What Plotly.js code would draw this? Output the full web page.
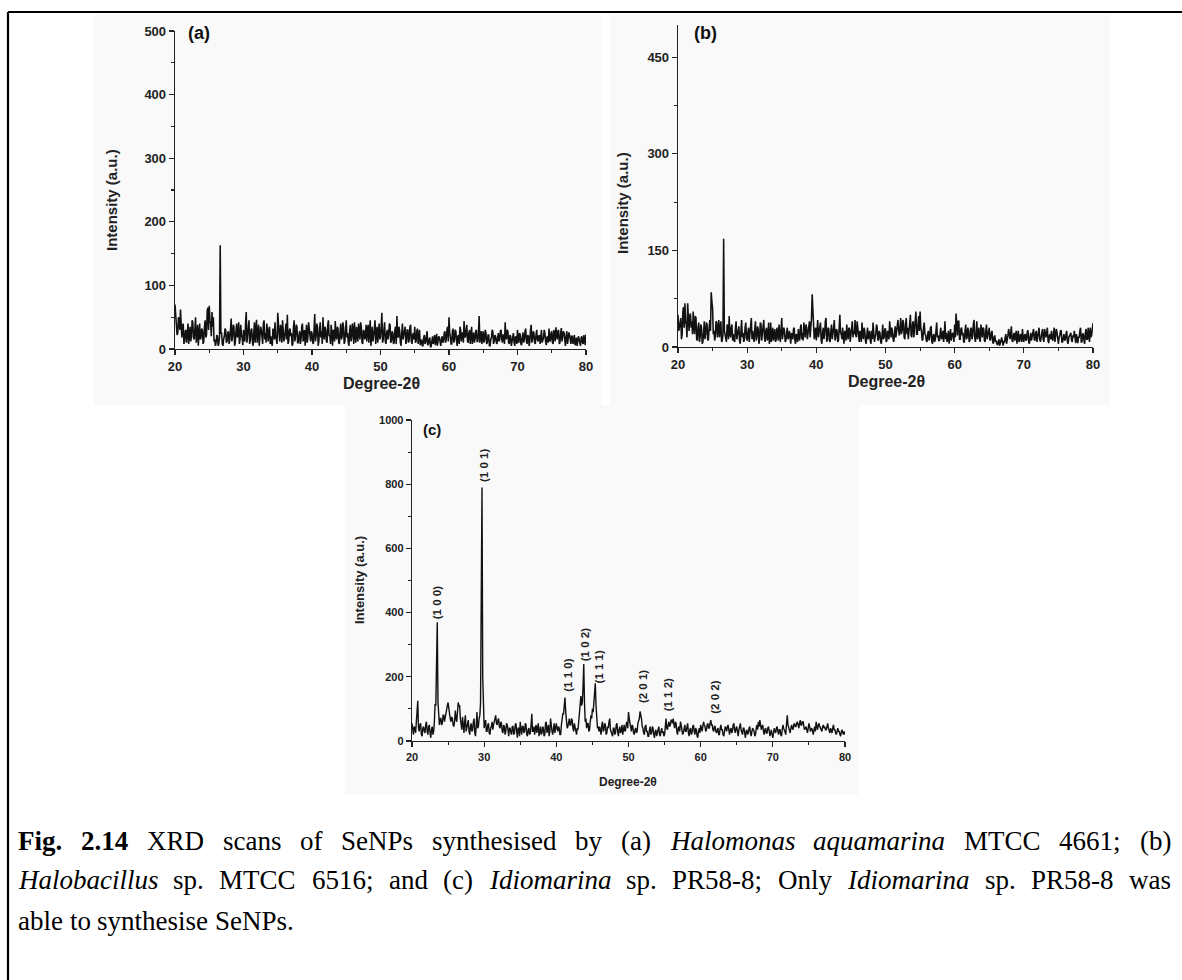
<!DOCTYPE html>
<html>
<head>
<meta charset="utf-8">
<script src="https://cdn.plot.ly/plotly-3.0.1.min.js"></script>
<style>
  html, body { margin: 0; padding: 0; background: #ffffff; }
  #chart { width: 1182px; height: 980px; }
</style>
</head>
<body>
<div id="chart"></div>
<script>
// ---------------- DATA ----------------
const twoThetaStart = 20;
const twoThetaStep = 0.1;

// (a) Halomonas aquamarina MTCC 4661
const intensityA = [
  70, 45, 38, 22, 25, 50, 45, 30, 62, 20, 18, 35, 40, 8, 12, 28, 30, 10, 22, 40,
  8, 25, 35, 12, 20, 45, 42, 18, 15, 30, 50, 10, 28, 38, 5, 22, 40, 15, 18, 32,
  30, 8, 12, 35, 45, 18, 22, 60, 65, 30, 68, 45, 40, 20, 58, 35, 50, 12, 15, 5,
  10, 22, 20, 5, 8, 20, 163, 25, 25, 8, 5, 15, 20, 32, 30, 10, 12, 25, 28, 8,
  15, 30, 48, 12, 20, 38, 35, 5, 10, 28, 40, 18, 25, 42, 8, 15, 38, 22, 18, 6,
  30, 15, 12, 40, 58, 10, 20, 35, 45, 8, 15, 30, 32, 12, 5, 25, 42, 10, 22, 46,
  10, 25, 38, 5, 18, 35, 30, 12, 8, 40, 45, 15, 25, 10, 40, 28, 12, 30, 35, 8,
  20, 10, 5, 32, 28, 15, 42, 20, 15, 8, 57, 25, 22, 12, 38, 30, 10, 45, 30, 12,
  18, 30, 40, 15, 54, 8, 12, 30, 32, 20, 25, 5, 8, 35, 45, 12, 20, 38, 35, 10,
  10, 22, 28, 8, 15, 35, 40, 12, 22, 30, 5, 18, 38, 10, 18, 42, 30, 15, 12, 28,
  25, 10, 8, 30, 55, 12, 20, 40, 35, 5, 12, 30, 42, 18, 28, 8, 50, 25, 15, 35,
  30, 12, 10, 38, 45, 20, 22, 8, 38, 25, 5, 30, 28, 12, 44, 20, 15, 35, 32, 10,
  8, 28, 40, 15, 20, 42, 35, 8, 12, 30, 45, 18, 25, 10, 5, 30, 38, 12, 18, 40,
  30, 8, 42, 20, 10, 35, 25, 12, 40, 22, 15, 42, 35, 10, 8, 30, 28, 15, 20, 38,
  12, 30, 38, 10, 22, 45, 5, 20, 35, 12, 18, 30, 45, 8, 25, 35, 10, 20, 40, 15,
  20, 35, 57, 10, 15, 30, 42, 12, 8, 25, 30, 15, 22, 40, 38, 10, 12, 28, 25, 8,
  10, 30, 35, 8, 52, 20, 18, 35, 28, 10, 5, 25, 40, 15, 22, 32, 35, 8, 12, 30,
  30, 10, 15, 35, 38, 12, 8, 22, 25, 15, 35, 10, 12, 28, 32, 8, 20, 30, 6, 15,
  15, 5, 5, 18, 22, 8, 10, 20, 28, 6, 8, 15, 18, 3, 4, 12, 20, 8, 12, 22,
  6, 15, 24, 5, 10, 20, 18, 8, 5, 15, 20, 10, 12, 25, 28, 10, 15, 30, 35, 12,
  50, 25, 20, 8, 8, 28, 32, 10, 15, 30, 28, 12, 5, 20, 22, 8, 35, 30, 12, 25,
  25, 10, 44, 20, 18, 30, 38, 12, 10, 25, 30, 8, 20, 35, 8, 15, 26, 10, 15, 28,
  30, 12, 12, 25, 52, 10, 20, 28, 8, 15, 28, 10, 15, 30, 25, 8, 10, 22, 22, 5,
  5, 15, 18, 30, 28, 8, 12, 22, 20, 10, 8, 18, 25, 12, 15, 28, 30, 15, 10, 22,
  22, 8, 42, 20, 15, 30, 28, 10, 8, 22, 20, 5, 12, 25, 25, 10, 5, 20, 18, 8,
  30, 12, 10, 25, 22, 8, 6, 18, 26, 10, 15, 28, 32, 12, 8, 22, 20, 5, 12, 30,
  38, 10, 15, 28, 25, 10, 8, 22, 30, 15, 12, 20, 22, 8, 28, 30, 10, 15, 18, 30,
  25, 12, 6, 18, 20, 10, 32, 15, 12, 25, 28, 10, 8, 30, 22, 12, 34, 20, 15, 28,
  30, 8, 10, 25, 33, 12, 18, 28, 25, 10, 5, 20, 28, 8, 15, 26, 22, 10, 8, 20,
  20, 8, 12, 22, 6, 10, 18, 5, 10, 20, 15, 8, 5, 18, 20, 10, 8, 22, 12, 6,
  23
];

// (b) Halobacillus sp. MTCC 6516
const intensityB = [
  50, 25, 30, 42, 45, 12, 20, 55, 62, 30, 68, 40, 35, 15, 68, 45, 25, 48, 52, 30,
  40, 20, 55, 30, 20, 48, 45, 12, 10, 30, 38, 8, 15, 35, 30, 5, 8, 22, 40, 12,
  20, 38, 35, 10, 12, 30, 42, 25, 85, 70, 60, 20, 25, 10, 18, 40, 38, 15, 30, 42,
  15, 35, 40, 8, 10, 20, 168, 25, 20, 10, 8, 35, 30, 12, 48, 20, 15, 30, 35, 10,
  20, 10, 8, 30, 40, 12, 18, 28, 32, 10, 5, 25, 42, 15, 22, 8, 12, 30, 38, 15,
  10, 22, 30, 8, 18, 35, 45, 12, 25, 15, 8, 28, 40, 10, 15, 32, 28, 5, 12, 38,
  35, 10, 20, 30, 42, 15, 8, 25, 30, 10, 15, 38, 5, 12, 38, 8, 22, 30, 10, 25,
  28, 8, 12, 30, 20, 10, 35, 15, 8, 28, 45, 12, 18, 30, 25, 8, 10, 22, 30, 12,
  15, 25, 8, 5, 22, 15, 12, 28, 30, 10, 5, 20, 18, 8, 28, 15, 10, 30, 35, 12,
  22, 10, 38, 25, 15, 35, 30, 12, 20, 35, 40, 15, 25, 45, 82, 40, 35, 12, 20, 30,
  10, 28, 42, 15, 25, 38, 38, 10, 5, 22, 30, 12, 20, 40, 45, 8, 12, 30, 28, 10,
  8, 25, 35, 12, 18, 30, 42, 10, 15, 28, 25, 8, 10, 35, 50, 22, 20, 12, 30, 15,
  5, 25, 22, 10, 35, 18, 12, 30, 28, 8, 18, 35, 40, 15, 25, 20, 42, 18, 15, 40,
  30, 10, 8, 25, 22, 8, 38, 20, 12, 30, 25, 10, 5, 18, 30, 12, 18, 25, 10, 5,
  25, 12, 38, 20, 8, 15, 20, 35, 30, 10, 12, 25, 22, 8, 5, 18, 35, 12, 15, 28,
  28, 8, 10, 25, 20, 12, 40, 18, 15, 30, 25, 12, 8, 20, 32, 15, 22, 30, 42, 25,
  18, 30, 45, 20, 25, 42, 38, 15, 12, 35, 45, 20, 30, 12, 22, 40, 50, 18, 15, 35,
  40, 15, 28, 45, 55, 20, 20, 35, 48, 25, 55, 30, 25, 10, 12, 30, 38, 20, 18, 10,
  8, 20, 25, 10, 15, 30, 32, 8, 5, 18, 20, 8, 12, 25, 38, 15, 18, 10, 10, 22,
  30, 12, 15, 25, 8, 20, 40, 12, 22, 8, 12, 25, 5, 15, 28, 10, 15, 22, 20, 8,
  35, 15, 52, 25, 18, 40, 40, 12, 12, 28, 30, 18, 22, 8, 8, 25, 35, 12, 15, 30,
  25, 8, 10, 28, 30, 12, 18, 35, 42, 15, 8, 20, 40, 12, 22, 30, 12, 8, 35, 20,
  15, 30, 28, 10, 8, 25, 35, 12, 20, 28, 30, 10, 12, 22, 25, 8, 5, 15, 18, 8,
  10, 5, 3, 8, 12, 2, 5, 10, 15, 3, 2, 8, 8, 15, 20, 5, 10, 18, 28, 12,
  12, 22, 32, 10, 8, 18, 22, 10, 15, 25, 5, 12, 25, 8, 10, 20, 18, 8, 28, 15,
  8, 18, 20, 10, 12, 24, 26, 8, 5, 15, 22, 10, 15, 25, 28, 12, 10, 22, 25, 8,
  18, 25, 30, 12, 8, 15, 22, 28, 12, 8, 28, 15, 15, 22, 30, 10, 6, 18, 20, 12,
  25, 12, 10, 22, 30, 8, 15, 28, 22, 10, 5, 15, 18, 25, 26, 8, 8, 15, 20, 10,
  12, 20, 25, 8, 5, 15, 18, 22, 22, 10, 8, 18, 15, 25, 10, 6, 20, 12, 6, 15,
  15, 25, 30, 8, 8, 20, 20, 10, 5, 22, 28, 12, 12, 30, 22, 8, 30, 15, 18, 25,
  37
];

// (c) Idiomarina sp. PR58-8
const intensityC = [
  55, 35, 20, 45, 40, 25, 60, 90, 125, 40, 30, 50, 55, 20, 15, 40, 45, 30, 25, 50,
  60, 30, 20, 45, 50, 25, 10, 35, 45, 20, 30, 60, 115, 110, 200, 370, 120, 60, 50, 70,
  70, 50, 55, 80, 80, 60, 75, 95, 95, 110, 120, 90, 85, 70, 60, 75, 70, 50, 45, 60,
  95, 70, 60, 90, 120, 110, 110, 70, 50, 35, 75, 40, 25, 60, 80, 30, 40, 55, 65, 30,
  20, 45, 55, 30, 35, 60, 70, 25, 15, 50, 90, 40, 45, 70, 80, 120, 400, 790, 200, 60,
  40, 55, 65, 30, 30, 50, 55, 25, 20, 40, 45, 60, 35, 50, 60, 75, 80, 55, 50, 65,
  70, 45, 40, 60, 55, 30, 25, 50, 45, 20, 30, 55, 50, 35, 15, 40, 40, 25, 20, 45,
  45, 20, 25, 50, 55, 30, 10, 40, 40, 15, 60, 35, 20, 45, 45, 25, 30, 55, 50, 20,
  15, 35, 40, 20, 25, 50, 85, 30, 30, 45, 20, 40, 50, 25, 35, 55, 15, 30, 45, 20,
  25, 45, 40, 15, 20, 55, 60, 25, 35, 50, 15, 30, 70, 40, 30, 20, 45, 55, 25, 40,
  55, 40, 30, 45, 40, 20, 20, 50, 70, 85, 85, 110, 135, 90, 60, 40, 45, 60, 70, 50,
  50, 70, 65, 40, 30, 55, 45, 30, 20, 40, 35, 60, 90, 110, 140, 110, 120, 170, 240, 120,
  60, 70, 40, 55, 55, 30, 35, 60, 80, 70, 100, 90, 120, 140, 180, 110, 70, 40, 45, 30,
  45, 25, 20, 50, 60, 30, 35, 55, 50, 20, 25, 45, 40, 60, 70, 35, 30, 20, 15, 40,
  40, 20, 25, 50, 55, 30, 15, 35, 45, 25, 30, 50, 20, 35, 50, 30, 35, 55, 60, 40,
  90, 70, 55, 30, 30, 50, 45, 25, 20, 35, 40, 25, 30, 55, 60, 70, 92, 80, 70, 45,
  40, 25, 20, 45, 50, 30, 30, 15, 15, 35, 45, 20, 25, 45, 40, 20, 10, 30, 35, 15,
  25, 35, 45, 20, 15, 30, 40, 25, 30, 15, 20, 45, 70, 40, 35, 50, 60, 45, 50, 65,
  65, 55, 70, 50, 40, 60, 55, 30, 20, 40, 45, 30, 60, 50, 35, 20, 25, 45, 50, 30,
  30, 45, 55, 25, 15, 35, 40, 20, 25, 45, 50, 30, 20, 40, 35, 15, 10, 30, 40, 25,
  50, 40, 30, 45, 60, 50, 45, 30, 35, 50, 55, 40, 40, 55, 65, 50, 50, 35, 30, 45,
  45, 30, 25, 35, 40, 20, 20, 40, 50, 35, 35, 20, 15, 30, 45, 40, 30, 45, 50, 35,
  20, 35, 40, 25, 30, 50, 55, 35, 25, 40, 45, 30, 15, 35, 50, 55, 35, 25, 20, 40,
  40, 25, 10, 30, 35, 20, 25, 40, 45, 25, 15, 30, 40, 35, 30, 15, 20, 40, 50, 35,
  60, 45, 65, 50, 35, 45, 50, 30, 20, 35, 40, 25, 25, 40, 45, 30, 15, 25, 35, 20,
  10, 25, 40, 30, 25, 40, 45, 30, 20, 35, 35, 20, 15, 35, 50, 40, 30, 25, 20, 55,
  80, 50, 40, 30, 25, 40, 50, 40, 35, 50, 55, 45, 45, 55, 60, 50, 40, 55, 65, 50,
  50, 60, 60, 45, 35, 40, 45, 35, 25, 40, 55, 45, 30, 35, 40, 30, 20, 35, 45, 30,
  60, 45, 35, 50, 55, 45, 40, 30, 30, 45, 50, 40, 45, 35, 35, 45, 55, 40, 30, 25,
  40, 30, 25, 40, 50, 35, 35, 25, 20, 30, 40, 30, 30, 20, 15, 30, 35, 25, 20, 30,
  20
];

// Miller indices labelled on panel (c)
const peakLabels = ["(1 0 0)", "(1 0 1)", "(1 1 0)", "(1 0 2)", "(1 1 1)", "(2 0 1)", "(1 1 2)", "(2 0 2)"];
const peakLabelTheta = [23.5, 29.9, 41.6, 44.0, 45.9, 52.1, 55.6, 62.0];
const peakLabelHeight = [430, 858, 206, 299, 232, 170, 145, 135];

const panelTags = ["(a)", "(b)", "(c)"];
const xAxisTitle = "Degree-2θ";
const yAxisTitle = "Intensity (a.u.)";

// ---------------- LAYOUT ----------------
const W = 1182, H = 980;
const px = v => v / W;
const py = v => 1 - v / H;
const sans = "Liberation Sans, Arial, sans-serif";
const serif = "Liberation Serif, Times New Roman, serif";

function scanGrid(n) { const g = []; for (let i = 0; i < n; i++) g.push(+(twoThetaStart + i * twoThetaStep).toFixed(2)); return g; }

const traces = [
  { x: scanGrid(intensityA.length), y: intensityA, type: "scatter", mode: "lines", line: { color: "#111", width: 1.55 }, xaxis: "x", yaxis: "y", hoverinfo: "x+y" },
  { x: scanGrid(intensityB.length), y: intensityB, type: "scatter", mode: "lines", line: { color: "#111", width: 1.55 }, xaxis: "x2", yaxis: "y2", hoverinfo: "x+y" },
  { x: scanGrid(intensityC.length), y: intensityC, type: "scatter", mode: "lines", line: { color: "#111", width: 1.4 }, xaxis: "x3", yaxis: "y3", hoverinfo: "x+y" }
];

function xAx(domain, anchor, fs) {
  return {
    domain: domain, anchor: anchor, range: [20, 80], dtick: 10, tick0: 20,
    showline: true, linecolor: "#222", linewidth: 1.3, mirror: false,
    ticks: "outside", ticklen: 5, tickwidth: 1.3, tickcolor: "#222",
    minor: { ticks: "outside", ticklen: 3, tickwidth: 1.1, tickcolor: "#222", dtick: 5 },
    showgrid: false, zeroline: false,
    tickfont: { family: sans, size: fs, color: "#222", weight: "bold" }
  };
}
function yAx(domain, anchor, rmax, dt, mdt, fs) {
  return {
    domain: domain, anchor: anchor, range: [0, rmax], dtick: dt, tick0: 0,
    showline: true, linecolor: "#222", linewidth: 1.3, mirror: false,
    ticks: "outside", ticklen: 5, tickwidth: 1.3, tickcolor: "#222",
    minor: { ticks: "outside", ticklen: 3, tickwidth: 1.1, tickcolor: "#222", dtick: mdt },
    showgrid: false, zeroline: false,
    tickfont: { family: sans, size: fs, color: "#222", weight: "bold" }
  };
}

const annotations = [];
function addText(text, x, y, opts) {
  annotations.push(Object.assign({ text: text, x: x, y: y, xref: "paper", yref: "paper", showarrow: false,
    xanchor: "center", yanchor: "middle", font: { family: sans, size: 14, color: "#222" } }, opts || {}));
}

// panel tags
addText(panelTags[0], px(186), py(33), { xanchor: "left", font: { family: sans, size: 18, color: "#111", weight: "bold" } });
addText(panelTags[1], px(692), py(33), { xanchor: "left", font: { family: sans, size: 18, color: "#111", weight: "bold" } });
addText(panelTags[2], px(421), py(429), { xanchor: "left", font: { family: sans, size: 15, color: "#111", weight: "bold" } });

// axis titles
addText(yAxisTitle, px(111), py(200), { textangle: -90, font: { family: sans, size: 15, color: "#222", weight: "bold" } });
addText(yAxisTitle, px(622), py(203), { textangle: -90, font: { family: sans, size: 15, color: "#222", weight: "bold" } });
addText(yAxisTitle, px(359), py(580), { textangle: -90, font: { family: sans, size: 13, color: "#222", weight: "bold" } });
addText(xAxisTitle, px(381), py(383), { font: { family: sans, size: 16, color: "#222", weight: "bold" } });
addText(xAxisTitle, px(886), py(381), { font: { family: sans, size: 16, color: "#222", weight: "bold" } });
addText(xAxisTitle, px(628), py(782), { font: { family: sans, size: 12, color: "#222", weight: "bold" } });

// peak labels
for (let i = 0; i < peakLabels.length; i++) {
  annotations.push({ text: peakLabels[i], x: peakLabelTheta[i], y: peakLabelHeight[i], xref: "x3", yref: "y3",
    showarrow: false, textangle: -90, xanchor: "center", yanchor: "middle",
    font: { family: sans, size: 11.5, color: "#222", weight: "bold" } });
}

// caption (justified lines)
const captionLines = [
  [["Fig.", "b"], ["2.14", "b"], ["XRD"], ["scans"], ["of"], ["SeNPs"], ["synthesised"], ["by"], ["(a)"], ["Halomonas", "i"], ["aquamarina", "i"], ["MTCC"], ["4661;"], ["(b)"]],
  [["Halobacillus", "i"], ["sp."], ["MTCC"], ["6516;"], ["and"], ["(c)"], ["Idiomarina", "i"], ["sp."], ["PR58-8;"], ["Only"], ["Idiomarina", "i"], ["sp."], ["PR58-8"], ["was"]],
  [["able"], ["to"], ["synthesise"], ["SeNPs."]]
];
const capLeft = 17, capRight = 1170, capSize = 27;
const capY = [841, 880, 921];
const cv = document.createElement("canvas").getContext("2d");
function wordWidth(w, st) {
  cv.font = (st === "i" ? "italic " : "") + (st === "b" ? "bold " : "") + capSize + "px 'Liberation Serif'";
  return cv.measureText(w).width;
}
captionLines.forEach((line, li) => {
  const widths = line.map(w => wordWidth(w[0], w[1]));
  const total = widths.reduce((a, b) => a + b, 0);
  const justify = li < 2;
  const gap = justify ? (capRight - capLeft - total) / (line.length - 1) : wordWidth(" ");
  let xpos = capLeft;
  line.forEach((w, k) => {
    let t = w[0];
    if (w[1] === "b") t = "<b>" + t + "</b>";
    if (w[1] === "i") t = "<i>" + t + "</i>";
    annotations.push({ text: t, x: px(xpos), y: py(capY[li]), xref: "paper", yref: "paper", showarrow: false,
      xanchor: "left", yanchor: "middle", xshift: -1, font: { family: serif, size: capSize, color: "#000" } });
    xpos += widths[k] + gap;
  });
});

const shapes = [
  // faint backgrounds of the three pasted figure panels
  { type: "rect", xref: "paper", yref: "paper", x0: px(94), x1: px(601), y0: py(405), y1: py(15), fillcolor: "#f9f9f9", line: { width: 0 }, layer: "below" },
  { type: "rect", xref: "paper", yref: "paper", x0: px(610), x1: px(1110), y0: py(405), y1: py(15), fillcolor: "#f9f9f9", line: { width: 0 }, layer: "below" },
  { type: "rect", xref: "paper", yref: "paper", x0: px(345), x1: px(858), y0: py(795), y1: py(405), fillcolor: "#f9f9f9", line: { width: 0 }, layer: "below" },
  // frame
  { type: "line", xref: "paper", yref: "paper", x0: px(8), x1: px(1182), y0: py(12), y1: py(12), line: { color: "#000", width: 2.2 } },
  { type: "line", xref: "paper", yref: "paper", x0: px(8), x1: px(8), y0: py(12), y1: py(980), line: { color: "#000", width: 2.2 } }
];

const layout = {
  width: W, height: H, margin: { l: 0, r: 0, t: 0, b: 0 },
  paper_bgcolor: "#ffffff", plot_bgcolor: "rgba(0,0,0,0)",
  showlegend: false,
  xaxis: xAx([px(175), px(586)], "y", 13),
  yaxis: yAx([py(349), py(31)], "x", 500, 100, 50, 13),
  xaxis2: xAx([px(678), px(1093)], "y2", 13),
  yaxis2: yAx([py(347), py(25)], "x2", 500, 150, 75, 13),
  xaxis3: xAx([px(412), px(845)], "y3", 11),
  yaxis3: yAx([py(741), py(420)], "x3", 1000, 200, 100, 11),
  annotations: annotations,
  shapes: shapes
};

Plotly.newPlot("chart", traces, layout, { displayModeBar: false, staticPlot: true });
</script>
</body>
</html>
